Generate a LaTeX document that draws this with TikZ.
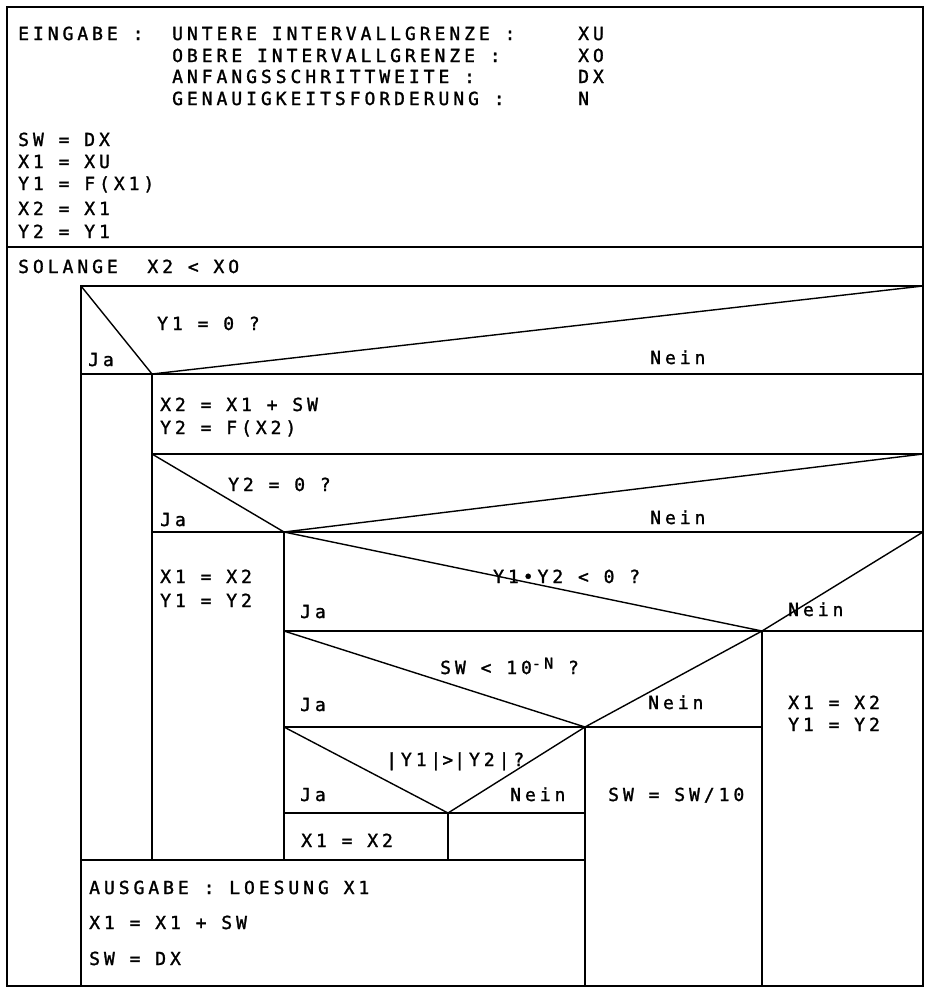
\documentclass[tikz,border=0pt]{standalone}
\usepackage{fontspec}
\newfontfamily\plotfont{DejaVu Sans Mono}[LetterSpace=22,FakeBold=1.5]
\begin{document}
\begin{tikzpicture}[x=1pt,y=-1pt,
  lbl/.style={anchor=base west, inner sep=0pt, font=\plotfont\fontsize{18}{22}\selectfont},
  frame/.style={line width=1.8pt, line cap=rect},
  diag/.style={line width=1.4pt, line join=miter}]
\useasboundingbox (0,0) rectangle (926,988);
% key coordinates
\coordinate (TL) at (7,7);   \coordinate (TR) at (923,7);
\coordinate (BL) at (7,986); \coordinate (BR) at (923,986);
% outer frame and input block
\draw[frame] (TL) -- (TR) -- (BR) -- (BL) -- cycle;
\draw[frame] (7,247) -- (923,247);
% loop body
\draw[frame] (81,286) -- (923,286);
\draw[frame] (81,286) -- (81,986);
% decision 1
\draw[frame] (81,374) -- (923,374);
\draw[diag] (81,286) -- (152,374) -- (923,286);
\draw[frame] (152,374) -- (152,860);
% block A
\draw[frame] (152,454) -- (923,454);
% decision 2
\draw[diag] (152,454) -- (284,532) -- (923,454);
\draw[frame] (152,532) -- (923,532);
\draw[frame] (284,532) -- (284,860);
% decision 3
\draw[diag] (284,532) -- (762,631) -- (923,532);
\draw[frame] (284,631) -- (923,631);
\draw[frame] (762,631) -- (762,986);
% decision 4
\draw[diag] (284,631) -- (585,727) -- (762,631);
\draw[frame] (284,727) -- (762,727);
\draw[frame] (585,727) -- (585,986);
% decision 5
\draw[diag] (284,727) -- (448,813) -- (585,727);
\draw[frame] (284,813) -- (585,813);
\draw[frame] (448,813) -- (448,860);
% output block
\draw[frame] (81,860) -- (585,860);

% texts
\node[lbl] (e0) at (18,40) {EINGABE :};
\node[lbl] (e1) at (172,40) {UNTERE INTERVALLGRENZE :};
\node[lbl] (e2) at (172,62) {OBERE INTERVALLGRENZE :};
\node[lbl] (e3) at (172,83) {ANFANGSSCHRITTWEITE :};
\node[lbl] (e4) at (172,105) {GENAUIGKEITSFORDERUNG :};
\node[lbl] (v1) at (578,40) {XU};
\node[lbl] (v2) at (578,62) {XO};
\node[lbl] (v3) at (578,83) {DX};
\node[lbl] (v4) at (578,105) {N};
\node[lbl] (i1) at (18,146) {SW = DX};
\node[lbl] (i2) at (18,168) {X1 = XU};
\node[lbl] (i3) at (18,190) {Y1 = F(X1)};
\node[lbl] (i4) at (18,215) {X2 = X1};
\node[lbl] (i5) at (18,238) {Y2 = Y1};
\node[lbl] (loop) at (18,273) {SOLANGE\ \ X2 < XO};
\node[lbl] (q1) at (157,330) {Y1 = 0 ?};
\node[lbl] (j1) at (88,366) {Ja};
\node[lbl] (n1) at (650,364) {Nein};
\node[lbl] (a1) at (160,411) {X2 = X1 + SW};
\node[lbl] (a2) at (160,434) {Y2 = F(X2)};
\node[lbl] (q2) at (228,491) {Y2 = 0 ?};
\node[lbl] (j2) at (160,526) {Ja};
\node[lbl] (n2) at (650,524) {Nein};
\node[lbl] (b1) at (160,583) {X1 = X2};
\node[lbl] (b2) at (160,607) {Y1 = Y2};
\node[lbl] (q3) at (493,583) {Y1•Y2 < 0 ?};
\node[lbl] (j3) at (300,618) {Ja};
\node[lbl] (n3) at (788,616) {Nein};
\node[lbl] (q4) at (440,674) {SW < 10\raisebox{0.55ex}{\fontsize{15}{17}\selectfont-N} ?};
\node[lbl] (j4) at (300,711) {Ja};
\node[lbl] (n4) at (648,709) {Nein};
\node[lbl] (c1) at (788,709) {X1 = X2};
\node[lbl] (c2) at (788,731) {Y1 = Y2};
\node[lbl] (q5) at (386,766) {|Y1|\kern1pt>\kern1pt|Y2|?};
\node[lbl] (j5) at (300,801) {Ja};
\node[lbl] (n5) at (510,801) {Nein};
\node[lbl] (d1) at (608,801) {SW = SW/10};
\node[lbl] (f1) at (301,847) {X1 = X2};
\node[lbl] (o1) at (89,894) {AUSGABE : LOESUNG X1};
\node[lbl] (o2) at (89,929) {X1 = X1 + SW};
\node[lbl] (o3) at (89,965) {SW = DX};
\end{tikzpicture}
\end{document}
